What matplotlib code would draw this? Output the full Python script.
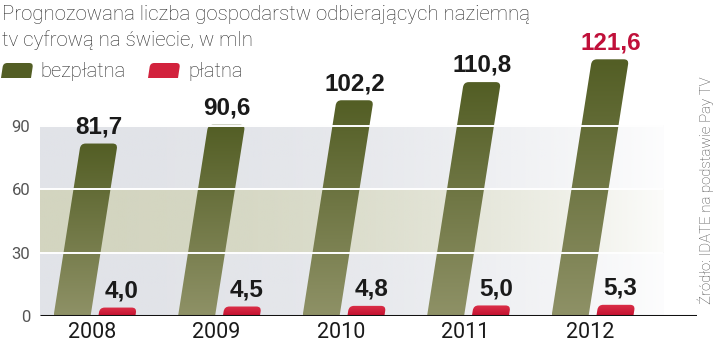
import numpy as np
import matplotlib
matplotlib.use("Agg")
import matplotlib.pyplot as plt
from matplotlib.path import Path
from matplotlib.patches import PathPatch
from matplotlib.transforms import IdentityTransform
from matplotlib.colors import to_rgb

years = ['2008', '2009', '2010', '2011', '2012']
free_tv = [81.7, 90.6, 102.2, 110.8, 121.6]
pay_tv = [4.0, 4.5, 4.8, 5.0, 5.3]
y_ticks = [0, 30, 60, 90]
bands = [(0, 30, '#e1e3e8'), (30, 60, '#d3d5c0'), (60, 90, '#e1e3e8')]

W, H = 720, 345
PX_X = 124.5            # pixels per year slot
PX_Y = 2.111            # pixels per million
SHEAR = 0.157 * PX_Y / PX_X   # sideways lean of the bars, data x per unit of height
BAR_W = 37 / PX_X
X_LEFT, X_RIGHT = (40 - 92) / PX_X, (697 - 92) / PX_X
BAND_END = (663 - 92) / PX_X

GREEN_TOP, GREEN_BOT = '#535e25', '#8e9166'
RED_TOP, RED_BOT = '#dc3049', '#c3112f'
LABEL_FONT = ['Liberation Sans', 'DejaVu Sans']
TEXT_FONT = ['Roboto', 'DejaVu Sans']


def fmt(v):
    return f'{v:.1f}'.replace('.', ',')


def slanted_path(x0, y0, h, w, rx, ry, shear):
    # parallelogram leaning right with rounded top corners
    tl = (x0 + shear * h, y0 + h)
    tr = (x0 + w + shear * h, y0 + h)
    verts = [(x0, y0), (x0 + w, y0),
             (x0 + w + shear * (h - ry), y0 + h - ry), tr, (tr[0] - rx, y0 + h),
             (tl[0] + rx, y0 + h), tl, (x0 + shear * (h - ry), y0 + h - ry),
             (x0, y0)]
    codes = [Path.MOVETO, Path.LINETO, Path.LINETO, Path.CURVE3, Path.CURVE3,
             Path.LINETO, Path.CURVE3, Path.CURVE3, Path.CLOSEPOLY]
    return Path(verts, codes)


def gradient_bar(ax, x0, h, top, bot):
    path = slanted_path(x0, 0, h, BAR_W, 5 / PX_X, 5 / PX_Y, SHEAR)
    patch = PathPatch(path, facecolor='none', edgecolor='none', zorder=2)
    ax.add_patch(patch)
    t = np.linspace(0, 1, 64)[:, None, None]
    img = (1 - t) * np.array(to_rgb(bot)) + t * np.array(to_rgb(top))
    im = ax.imshow(img, origin='lower', aspect='auto', interpolation='bilinear',
                   extent=[x0, x0 + BAR_W + SHEAR * h, 0, h], zorder=2)
    im.set_clip_path(patch)


fig = plt.figure(figsize=(W / 100, H / 100), dpi=100)
ax = fig.add_axes([40 / W, 29 / H, (697 - 40) / W, 130 * PX_Y / H])

# background bands fading out to the right
for lo, hi, c in bands:
    s = np.linspace(0, 1, 200)
    alpha = 1 - 0.92 * s ** 2.2
    rgba = np.zeros((1, 200, 4))
    rgba[..., :3] = to_rgb(c)
    rgba[..., 3] = alpha
    ax.imshow(rgba, origin='lower', aspect='auto', interpolation='bilinear',
              extent=[X_LEFT, BAND_END, lo, hi], zorder=0)

x = np.arange(len(years))
for i, (f, p) in enumerate(zip(free_tv, pay_tv)):
    gx = x[i] - 0.16 - BAR_W / 2
    rx = x[i] + 0.20 - BAR_W / 2
    gradient_bar(ax, gx, f, GREEN_TOP, GREEN_BOT)
    gradient_bar(ax, rx, p, RED_TOP, RED_BOT)
    col = '#c0103a' if i == len(years) - 1 else '#1a1a1a'
    ax.text(gx + BAR_W / 2 + SHEAR * f, f + 4.8, fmt(f), ha='center', va='baseline',
            fontsize=17.5, fontweight='bold', color=col, family=LABEL_FONT, zorder=5)
    ax.text(rx + BAR_W / 2 + SHEAR * p + 0.03, p + 4.8, fmt(p), ha='center', va='baseline',
            fontsize=17.5, fontweight='bold', color='#1a1a1a', family=LABEL_FONT, zorder=5)

ax.hlines([30, 60, 90], X_LEFT, BAND_END, colors='white', lw=1.4, zorder=3)
ax.hlines(0, X_LEFT, X_RIGHT, colors='#111111', lw=2.2, zorder=4)

ax.set_xlim(X_LEFT, X_RIGHT)
ax.set_ylim(0, 130)
for s in ax.spines.values():
    s.set_visible(False)
ax.set_xticks(x, years)
ax.set_yticks(y_ticks, [str(v) for v in y_ticks])
ax.tick_params(length=0)
ax.tick_params(axis='x', pad=4, labelsize=15.5, labelcolor='#1a1a1a')
ax.tick_params(axis='y', pad=7, labelsize=12, labelcolor='#555555')
for lab in ax.get_xticklabels() + ax.get_yticklabels():
    lab.set_family(TEXT_FONT)

# title, legend and source
fig.text(2 / W, 1 - 20 / H, 'Prognozowana liczba gospodarstw odbierających naziemną',
         fontsize=14.7, color='#2a2a2a', va='baseline', family=TEXT_FONT, fontweight='light')
fig.text(2 / W, 1 - 46 / H, 'tv cyfrową na świecie, w mln',
         fontsize=14.7, color='#2a2a2a', va='baseline', family=TEXT_FONT, fontweight='light')

for x0, c, label, tx in [(1, GREEN_TOP, 'bezpłatna', 40), (148, '#d2223d', 'płatna', 188)]:
    sw = slanted_path(x0, H - 78, 15, 30, 4, 4, 0.15)
    fig.add_artist(PathPatch(sw, facecolor=c, edgecolor='none', transform=IdentityTransform()))
    fig.text(tx / W, 1 - 77 / H, label, fontsize=14.5, color='#2a2a2a', va='baseline',
             family=TEXT_FONT, fontweight='light')

fig.text(706 / W, 1 - 190 / H, 'Źródło: IDATE na podstawie Pay TV', rotation=90,
         ha='center', va='center', fontsize=10.8, color='#444444', family=TEXT_FONT,
         fontweight='light')

fig.savefig('out.png', dpi=100)
